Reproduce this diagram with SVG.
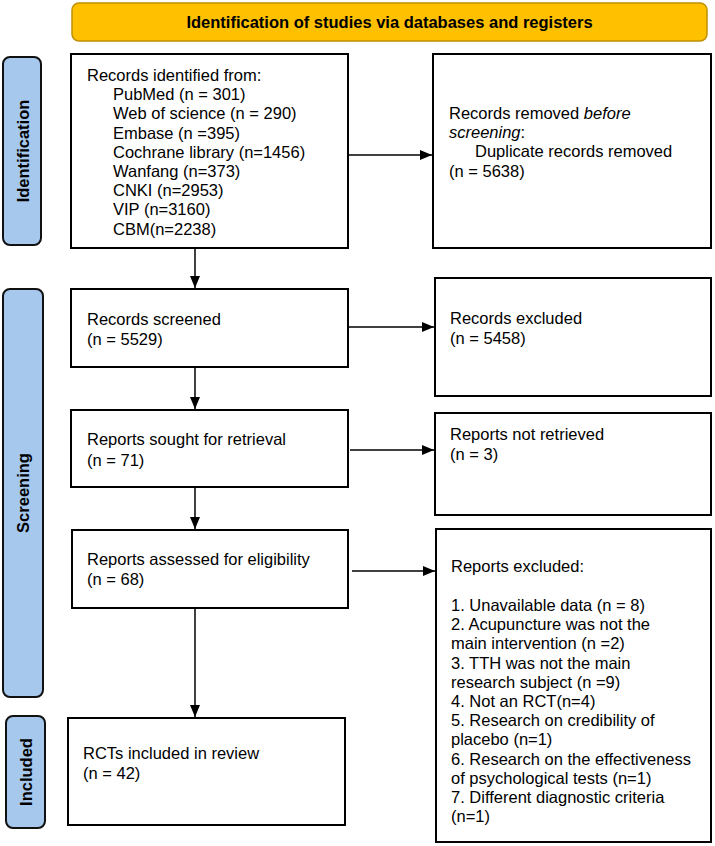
<svg xmlns="http://www.w3.org/2000/svg" width="715" height="846" viewBox="0 0 715 846">
<defs>
<style>
.box{fill:#fff;stroke:#000;stroke-width:2}
.tab{fill:#A6C8EC;stroke:#111;stroke-width:2}
.t{font-family:"Liberation Sans",Arial,sans-serif;font-size:16.5px;fill:#000}
.tb{font-family:"Liberation Sans",Arial,sans-serif;font-size:16.5px;font-weight:bold;fill:#000}
.c{stroke:#000;stroke-width:1.5;fill:none}
</style>
<marker id="ah" viewBox="0 0 12 10" refX="12" refY="5" markerWidth="12" markerHeight="10" markerUnits="userSpaceOnUse" orient="auto">
<path d="M0,0 L12,5 L0,10 z" fill="#000"/>
</marker>
</defs>
<rect width="715" height="846" fill="#fff"/>
<g id="banner">
<rect x="72" y="3" width="635" height="38" rx="7" fill="#FFC000" stroke="#C09000" stroke-width="1.5"/>
<text class="tb" x="389.5" y="28" text-anchor="middle">Identification of studies via databases and registers</text>
</g>
<g id="tab-identification">
<rect class="tab" x="3" y="57" width="38" height="188" rx="7"/>
<text class="tb" transform="translate(28.5,151) rotate(-90)" text-anchor="middle">Identification</text>
</g>
<g id="tab-screening">
<rect class="tab" x="3" y="289" width="40" height="408" rx="7"/>
<text class="tb" transform="translate(29,493) rotate(-90)" text-anchor="middle">Screening</text>
</g>
<g id="tab-included">
<rect class="tab" x="6" y="716" width="39" height="112" rx="7"/>
<text class="tb" transform="translate(31.5,772) rotate(-90)" text-anchor="middle">Included</text>
</g>
<g id="records-identified">
<rect class="box" x="71" y="54" width="277" height="194"/>
<text class="t" x="87" y="81">Records identified from:</text>
<text class="t" x="113" y="100.2">PubMed (n = 301)</text>
<text class="t" x="113" y="119.4">Web of science (n = 290)</text>
<text class="t" x="113" y="138.6">Embase (n =395)</text>
<text class="t" x="113" y="157.8">Cochrane library (n=1456)</text>
<text class="t" x="113" y="177">Wanfang (n=373)</text>
<text class="t" x="113" y="196.2">CNKI (n=2953)</text>
<text class="t" x="113" y="215.4">VIP (n=3160)</text>
<text class="t" x="113" y="234.6">CBM(n=2238)</text>
</g>
<g id="records-removed">
<rect class="box" x="433" y="54" width="278" height="194"/>
<text class="t" x="449" y="119">Records removed <tspan font-style="italic">before</tspan></text>
<text class="t" x="449" y="138.2"><tspan font-style="italic">screening</tspan>:</text>
<text class="t" x="475" y="157.4">Duplicate records removed</text>
<text class="t" x="449" y="176.6">(n = 5638)</text>
</g>
<g id="records-screened">
<rect class="box" x="71" y="289" width="277" height="78"/>
<text class="t" x="87" y="325">Records screened</text>
<text class="t" x="87" y="345">(n = 5529)</text>
</g>
<g id="records-excluded">
<rect class="box" x="435" y="278" width="276" height="118"/>
<text class="t" x="450" y="324">Records excluded</text>
<text class="t" x="450" y="344">(n = 5458)</text>
</g>
<g id="reports-sought">
<rect class="box" x="71" y="410" width="277" height="77"/>
<text class="t" x="87" y="445">Reports sought for retrieval</text>
<text class="t" x="87" y="465.5">(n = 71)</text>
</g>
<g id="reports-not-retrieved">
<rect class="box" x="435" y="413" width="276" height="102"/>
<text class="t" x="450" y="440">Reports not retrieved</text>
<text class="t" x="450" y="460">(n = 3)</text>
</g>
<g id="reports-assessed">
<rect class="box" x="72" y="530" width="276" height="78"/>
<text class="t" x="87" y="565">Reports assessed for eligibility</text>
<text class="t" x="87" y="584.5">(n = 68)</text>
</g>
<g id="reports-excluded">
<rect class="box" x="436" y="529" width="275" height="313"/>
<text class="t" x="451" y="572">Reports excluded:</text>
<text class="t" x="451" y="611">1. Unavailable data (n = 8)</text>
<text class="t" x="451" y="630.2">2. Acupuncture was not the</text>
<text class="t" x="451" y="649.4">main intervention (n =2)</text>
<text class="t" x="451" y="668.6">3. TTH was not the main</text>
<text class="t" x="451" y="687.8">research subject (n =9)</text>
<text class="t" x="451" y="707">4. Not an RCT(n=4)</text>
<text class="t" x="451" y="726.2">5. Research on credibility of</text>
<text class="t" x="451" y="745.4">placebo (n=1)</text>
<text class="t" x="451" y="764.6">6. Research on the effectiveness</text>
<text class="t" x="451" y="783.8">of psychological tests (n=1)</text>
<text class="t" x="451" y="803">7. Different diagnostic criteria</text>
<text class="t" x="451" y="822.2">(n=1)</text>
</g>
<g id="rcts-included">
<rect class="box" x="68" y="718" width="277" height="107"/>
<text class="t" x="83" y="758.5">RCTs included in review</text>
<text class="t" x="83" y="778.5">(n = 42)</text>
</g>
<g id="connectors">
<line class="c" x1="349" y1="155" x2="432" y2="155" marker-end="url(#ah)"/>
<line class="c" x1="195" y1="249" x2="195" y2="288" marker-end="url(#ah)"/>
<line class="c" x1="349" y1="327" x2="434" y2="327" marker-end="url(#ah)"/>
<line class="c" x1="195" y1="368" x2="195" y2="409" marker-end="url(#ah)"/>
<line class="c" x1="350" y1="450" x2="434" y2="450" marker-end="url(#ah)"/>
<line class="c" x1="195" y1="488" x2="195" y2="529" marker-end="url(#ah)"/>
<line class="c" x1="352" y1="571" x2="435" y2="571" marker-end="url(#ah)"/>
<line class="c" x1="195" y1="609" x2="195" y2="717" marker-end="url(#ah)"/>
</g>
</svg>
